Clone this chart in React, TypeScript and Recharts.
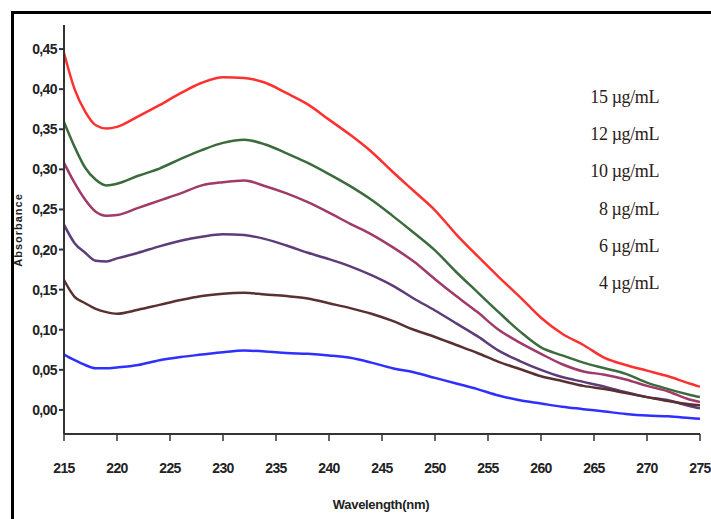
import React from "react";
import { Line, LineChart, XAxis, YAxis } from "recharts";

// wavelength (nm)
const wavelengths = [
  215, 216, 217, 218, 219, 220, 222, 224, 226, 228, 230, 232, 234, 236, 238, 240, 242, 244,
  246, 248, 250, 252, 254, 256, 258, 260, 262, 264, 266, 268, 270, 272, 274, 275,
];

const c15 = [
  0.445, 0.4, 0.372, 0.355, 0.351, 0.353, 0.366, 0.38, 0.395, 0.408, 0.415, 0.414, 0.408, 0.395,
  0.381, 0.362, 0.343, 0.322, 0.297, 0.273, 0.249, 0.219, 0.192, 0.166, 0.141, 0.115, 0.095,
  0.081, 0.065, 0.056, 0.049, 0.042, 0.033, 0.029,
];
const c12 = [
  0.359, 0.328, 0.302, 0.287, 0.28, 0.282, 0.292, 0.301, 0.313, 0.324, 0.333, 0.337, 0.331,
  0.32, 0.308, 0.294, 0.279, 0.262, 0.242, 0.221, 0.199, 0.172, 0.147, 0.122, 0.098, 0.078,
  0.068, 0.059, 0.052, 0.045, 0.034, 0.026, 0.019, 0.016,
];
const c10 = [
  0.308, 0.283, 0.262, 0.247, 0.242, 0.243, 0.252, 0.261, 0.27, 0.28, 0.284, 0.286, 0.279,
  0.27, 0.259, 0.246, 0.232, 0.219, 0.203, 0.185, 0.163, 0.142, 0.122, 0.1, 0.084, 0.07, 0.057,
  0.048, 0.044, 0.038, 0.03, 0.023, 0.013, 0.01,
];
const c8 = [
  0.231, 0.208, 0.196, 0.186, 0.185, 0.189, 0.196, 0.204, 0.211, 0.216, 0.219, 0.218, 0.213,
  0.205, 0.196, 0.188, 0.179, 0.168, 0.155, 0.139, 0.124, 0.108, 0.092, 0.074, 0.061, 0.05,
  0.041, 0.035, 0.029, 0.022, 0.016, 0.012, 0.005, 0.002,
];
const c6 = [
  0.162, 0.141, 0.133, 0.126, 0.122, 0.12, 0.125, 0.131, 0.137, 0.142, 0.145, 0.146, 0.144,
  0.142, 0.139, 0.133, 0.127, 0.12, 0.111, 0.1, 0.091, 0.081, 0.071, 0.06, 0.051, 0.042, 0.036,
  0.03, 0.026, 0.021, 0.016, 0.011, 0.007, 0.006,
];
const c4 = [
  0.069, 0.062, 0.056, 0.052, 0.052, 0.053, 0.056, 0.062, 0.066, 0.069, 0.072, 0.074, 0.073,
  0.071, 0.07, 0.068, 0.065, 0.059, 0.052, 0.047, 0.04, 0.033, 0.026, 0.018, 0.012, 0.008,
  0.004, 0.001, -0.002, -0.005, -0.007, -0.008, -0.01, -0.011,
];

const xTicks = [215, 220, 225, 230, 235, 240, 245, 250, 255, 260, 265, 270, 275];
const yTicks = [0, 0.05, 0.1, 0.15, 0.2, 0.25, 0.3, 0.35, 0.4, 0.45];
const legendLabels = ["15 µg/mL", "12 µg/mL", "10 µg/mL", "8 µg/mL", "6 µg/mL", "4 µg/mL"];

const series = [
  { key: "c15", values: c15, color: "#ff3030" },
  { key: "c12", values: c12, color: "#3c6b3e" },
  { key: "c10", values: c10, color: "#a03a68" },
  { key: "c8", values: c8, color: "#5d3c78" },
  { key: "c6", values: c6, color: "#5a3030" },
  { key: "c4", values: c4, color: "#2f2fff" },
];

const data = wavelengths.map((w, i) => {
  const row: Record<string, number> = { w };
  series.forEach((s) => (row[s.key] = s.values[i]));
  return row;
});

const tickFont = {
  fontFamily: "'Liberation Sans Narrow', 'Arial Narrow', 'Liberation Sans', sans-serif",
  fontWeight: 700,
  fontSize: 14,
  letterSpacing: -0.6,
  fill: "#222",
};

const App: React.FC = () => {
  return (
    <div style={{ position: "absolute", left: 0, top: 0, width: 711, height: 519, background: "#fff" }}>
      <div
        style={{
          position: "absolute",
          left: 11,
          top: 11,
          width: 711,
          height: 519,
          borderLeft: "3px solid #000",
          borderTop: "3px solid #000",
        }}
      />
      <LineChart
        width={711}
        height={519}
        data={data}
        margin={{ top: 25, right: 11, left: 14, bottom: 25 }}
        style={{ position: "absolute", left: 0, top: 0 }}
      >
        <XAxis
          dataKey="w"
          type="number"
          domain={[215, 275]}
          ticks={xTicks}
          height={60}
          tickSize={7}
          tickMargin={22}
          tick={tickFont}
          stroke="#333"
          strokeWidth={2}
          tickLine={{ stroke: "#333", strokeWidth: 1.5 }}
          allowDataOverflow
        />
        <XAxis xAxisId="top" orientation="top" type="number" domain={[215, 275]} height={0} tick={false} tickLine={false} stroke="#555" strokeWidth={2} />
        <YAxis
          type="number"
          domain={[-0.03, 0.48]}
          ticks={yTicks}
          width={50}
          tickSize={5}
          tickMargin={2}
          tick={tickFont}
          tickFormatter={(v: number) => v.toFixed(2).replace(".", ",")}
          stroke="#333"
          strokeWidth={2}
          allowDataOverflow
        />
        <YAxis yAxisId="right" orientation="right" type="number" domain={[0, 1]} width={0} tick={false} tickLine={false} stroke="#555" strokeWidth={2} />
        {series.map((s) => (
          <Line
            key={s.key}
            type="monotone"
            dataKey={s.key}
            stroke={s.color}
            strokeWidth={2.5}
            dot={false}
            isAnimationActive={false}
          />
        ))}
        <text
          x={381}
          y={509}
          textAnchor="middle"
          style={{ ...tickFont, fontSize: 13, letterSpacing: -0.3 }}
        >
          Wavelength(nm)
        </text>
        <text
          x={22}
          y={230}
          textAnchor="middle"
          transform="rotate(-90 22 230)"
          style={{ ...tickFont, fontSize: 11, letterSpacing: 1 }}
        >
          Absorbance
        </text>
        {legendLabels.map((l, i) => (
          <text
            key={l}
            x={659}
            y={103 + i * 37.2}
            textAnchor="end"
            style={{ fontFamily: "'Liberation Serif', 'Times New Roman', serif", fontSize: 18, letterSpacing: -0.4, fill: "#2a2018" }}
          >
            {l}
          </text>
        ))}
      </LineChart>
    </div>
  );
};

export default App;
